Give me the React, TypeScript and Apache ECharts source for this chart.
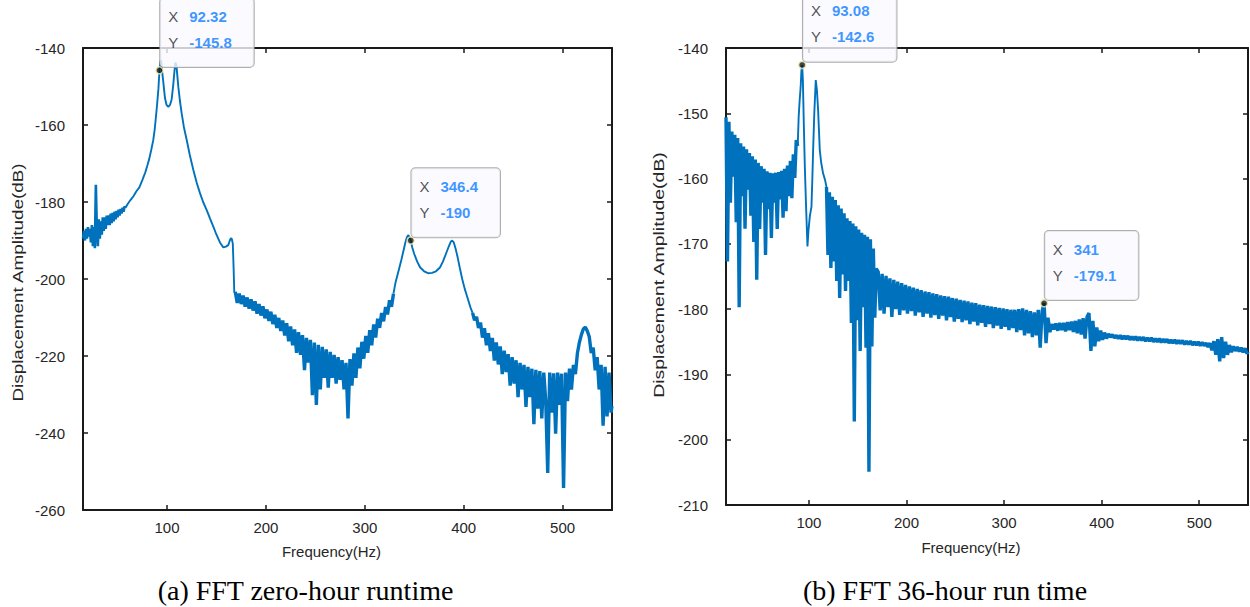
import React, { useEffect, useRef } from "react";
import * as echarts from "echarts";

// ---------- (a) FFT zero-hour runtime ----------
const zeroLowBand: [number, number][] = [
  [15,-189.5],[16,-187.5],[17,-190],[18,-187],[19,-189.5],[20,-186.5],[21,-189],[22,-187],[23,-190.5],[24,-186],
  [25,-191.5],[26,-186.5],[27,-192],[28,-175.5],[29,-187],[30,-191.5],[31,-184.5],[32,-189.5],[33,-185],[34,-188.5],
  [35,-184],[36,-187.5],[37,-184],[38,-187],[39,-183.5],[40,-186],[41,-183.5],[42,-186],[43,-183],[44,-185.5],
  [45,-182.8],[46,-185],[47,-182.5],[48,-184.5],[49,-182.3],[50,-184],[51,-182],[52,-183.5],[53,-181.8],[54,-183],
  [55,-181.5],[56,-182.5],[57,-181.2],[58,-181.5]
];
const zeroResonance: [number, number][] = [
  [60,-180.6],[63,-179.5],[66,-178.5],[69,-177.2],[72,-176.2],[75,-174.3],[78,-172.3],[80,-170.6],[82,-168.8],
  [84,-166.5],[86,-164],[87.5,-161.2],[88.8,-157.8],[90,-154.5],[91.3,-150.5],[92.32,-145.8],[93.2,-143.5],
  [94,-143.2],[95,-146],[96.2,-148.8],[97.9,-153],[99.5,-154.8],[101.3,-155.3],[103,-154.8],[104.7,-153.3],
  [106.3,-149.5],[107.5,-146],[108.5,-143.8],[109.5,-144.5],[110.5,-147.5],[111.5,-150.3],[113,-153.7],
  [114.8,-157],[117,-160.5],[119.9,-163.9],[123,-167.8],[126.6,-171.7],[130,-175],[133.3,-177.7],[136.5,-180],
  [140.1,-182.1],[143.5,-184.3],[146.8,-186.4],[150,-188.5],[153.5,-190.5],[156.9,-191.8],[159.5,-191.6],
  [161.9,-191.2],[163.5,-190],[164.6,-189.4],[165.5,-189.6],[166.5,-190.8],[167.3,-197],[168,-203.5]
];
const zeroMidBand: [number, number][] = [
  [169,-203.3],[171,-206.2],[173,-203.8],[175,-206.5],[177,-204.3],[179,-207.2],[181,-204.8],[183,-207.7],[185,-205.3],
  [187,-208.2],[189,-205.8],[191,-209],[193,-206.5],[195,-209.5],[197,-207.1],[199,-210.2],[201,-207.9],
  [203,-210.9],[205,-208.5],[207,-211.7],[209,-209.3],[211,-212.7],[213,-210.1],[215,-213.5],[217,-210.8],[219,-214.7],
  [221,-211.5],[223,-216.2],[225,-212.3],[227,-217.2],[229,-213.1],[231,-219.2],[233,-213.8],[235,-219.7],
  [237,-214.6],[239,-223.7],[241,-215.3],[243,-221.7],[245,-215.8],[247,-230.2],[249,-216.5],[251,-232.7],[253,-217.1],
  [255,-228.7],[257,-217.6],[259,-225.7],[261,-218.3],[263,-228.2],[265,-218.9],[267,-225.7],[269,-219.7],[271,-227.2],
  [273,-220.3],[275,-226.2],[277,-221.1],[279,-228.7],[281,-221.8],[283,-236.2],[285,-220.8],[287,-227.7],[289,-219.3],
  [291,-225.7],[293,-217.8],[295,-223.2],[297,-216.3],[299,-220.7],[301,-214.8],[303,-219.2],[305,-213.3],[307,-217.2],
  [309,-211.8],[311,-215.2],[313,-210.3],[315,-212.7],[317,-208.8],[319,-211],[321,-207.3],[323,-209.2],
  [325,-205.5],[327,-207.2],[329,-203.8]
];
const zeroSecondPeak: [number, number][] = [
  [331,-201],[333,-199],[335,-197],[337,-195],[339,-192.8],[341,-190.5],[342.5,-189.2],[343.8,-188.6],
  [345,-189],[346.4,-190],[348,-191.8],[350,-193.5],[353,-195.5],[356,-197],[360,-198],[364,-198.5],
  [368,-198.4],[372,-198],[376,-197],[379,-195.5],[382,-193.5],[385,-191.5],[387,-190.3],[388.3,-190],
  [390,-190.5],[392,-192.3],[394,-194.5],[396,-197],[398.5,-200],[401,-202.5],[404,-205],[407,-207.5]
];
const zeroHighBand: [number, number][] = [
  [409,-208.8],[411,-210.7],[413,-209.8],[415,-212.7],[417,-211.3],[419,-215.2],[421,-212.8],[423,-217.2],
  [425,-214.1],[427,-218.7],[429,-215.3],[431,-221.2],[433,-216.5],[435,-222.2],[437,-217.5],[439,-224.7],
  [441,-218.6],[443,-224.2],[445,-219.5],[447,-227.7],[449,-220.3],[451,-227.2],[453,-221.1],[455,-230.7],
  [457,-221.8],[459,-228.7],[461,-222.3],[463,-233.2],[465,-222.8],[467,-230.7],[469,-223.3],[471,-237.7],[473,-223.6],
  [475,-233.7],[477,-223.9],[479,-236.2],[481,-224.3],[483,-231.7],[485,-250.4],[487,-224.3],[489,-234.7],[491,-224.5],
  [493,-240.2],[495,-224.3],[497,-232.7],[499,-224.6],[501,-254.3],[503,-224.3],[505,-231.7],[507,-223.3],[509,-228.7],
  [511,-222.3],[513,-224.7],[515,-219.3],[517,-216.5],[519,-214.5],[521,-213],[523,-212.5],[525,-213.5],[527,-215],
  [529,-219.2],[531,-217.8],[533,-223.7],[535,-220.3],[537,-228.7],[539,-222.3],[541,-238.1],[543,-222.8],[545,-235.7],
  [547,-224.3],[549,-234.7],[550,-233]
];
const zeroTips: [number, number][] = [[92.32, -145.8], [346.4, -190]];

// ---------- (b) FFT 36-hour run time ----------
const hourLowBand: [number, number][] = [
  [15,-150.6],[16.5,-172.7],[18,-151.3],[19.5,-163.7],[21,-152.8],[22.5,-159.7],[24,-153.3],[25.5,-166.7],[27,-153.8],
  [28.5,-179.7],[30,-154.6],[31.5,-162.7],[33,-155.1],[34.5,-167.7],[36,-155.5],[37.5,-161.7],[39,-156.1],[40.5,-165.7],
  [42,-156.6],[43.5,-169.7],[45,-157.1],[46.5,-175.5],[48,-157.6],[49.5,-167.7],[51,-158.1],[52.5,-163.7],[54,-158.5],
  [55.5,-171.7],[57,-158.9],[58.5,-164.7],[60,-159.1],[61.5,-169.1],[63,-159.2],[64.5,-163.7],[66,-159.1],[67.5,-167.7],
  [69,-159],[70.5,-163.2],[72,-158.8],[73.5,-166],[75,-158.5],[76.5,-165],[78,-158],[79.5,-162.7],
  [81,-157.3],[82.5,-163],[84,-156.3],[85.5,-159.9],[87,-154.1],[88.5,-155]
];
const hourResonance: [number, number][] = [
  [89.5,-150.5],[90.5,-148],[91.5,-146],[92.3,-143.5],[93.08,-142.6],[93.8,-145],[94.8,-152],[95.8,-158.2],
  [97,-164],[98.5,-170.4],[99.5,-168],[100.9,-165.8],[102.6,-164.3],[103.5,-160],[104.3,-155.6],[105.5,-150],
  [107,-144.9],[108.2,-146.5],[109.4,-149.5],[111.1,-155.6],[112.5,-157.5],[114.5,-159.2],[116.5,-160.2]
];
const hourMidBand: [number, number][] = [
  [118,-161.3],[119.5,-171.7],[121,-162.1],[122.5,-173.7],[124,-162.8],[125.5,-172.7],[127,-163.3],[128.5,-175.7],
  [130,-164.1],[131.5,-178.3],[133,-164.6],[134.5,-174.7],[136,-165.3],[137.5,-177.2],[139,-166.1],[140.5,-175.7],
  [142,-166.5],[143.5,-182.1],[145,-166.9],[146.5,-197.2],[148,-167.3],[149.5,-181.7],[151,-167.8],[152.5,-186.4],
  [154,-168.3],[155.5,-179.7],[157,-168.6],[158.5,-185.9],[160,-168.9],[161.5,-204.9],[163,-169.3],[164.5,-185.7],
  [166,-170.7],[167.5,-181.3],[169,-173.8]
];
const hourTailBand: [number, number][] = [
  [171,-174.3],[173,-180.2],[175,-174.6],[177,-180.7],[179,-174.9],[181,-179.7],[183,-175.3],[185,-181.2],[187,-175.5],
  [189,-180],[191,-175.8],[193,-180.9],[195,-176],[197,-180.2],[199,-176.3],[201,-180.7],[203,-176.5],
  [205,-180.3],[207,-176.7],[209,-181],[211,-176.9],[213,-180.5],[215,-177.1],[217,-181.2],[219,-177.3],
  [221,-180.7],[223,-177.4],[225,-181.3],[227,-177.6],[229,-180.9],[231,-177.7],[233,-181.5],[235,-177.9],
  [237,-181],[239,-178],[241,-181.7],[243,-178.1],[245,-181.2],[247,-178.3],[249,-181.9],[251,-178.4],
  [253,-181.5],[255,-178.6],[257,-182],[259,-178.7],[261,-181.7],[263,-178.8],[265,-182.3],[267,-179],
  [269,-181.9],[271,-179.1],[273,-182.5],[275,-179.3],[277,-182.1],[279,-179.4],[281,-182.7],[283,-179.5],
  [285,-182.3],[287,-179.6],[289,-182.9],[291,-179.7],[293,-182.5],[295,-179.8],[297,-183],[299,-179.9],
  [301,-182.7],[303,-180],[305,-183.2],[307,-180.1],[309,-182.9],[311,-180.1],[313,-183.5],[315,-180],
  [317,-183.2],[319,-179.9],[321,-184],[323,-180.1],[325,-183.7],[327,-180.3],[329,-184.3],[331,-180.5],
  [333,-184],[335,-180.1],[337,-185.9],[339,-180.3],[341,-179.1],[343,-185.2],[345,-181.3],[347,-183.5],
  [349,-182.3],[351,-183.1],[353,-182.2],[355,-183.3],[357,-182.1],[359,-183.2],[361,-182.1],[363,-183.4],
  [365,-182],[367,-183.2],[369,-181.9],[371,-183.5],[373,-181.8],[375,-183.7],[377,-181.6],[379,-183.9],
  [381,-181.4],[383,-184.5],[385,-181.2],[387,-180.6],[389,-186.4],[391,-181.8],[393,-185.7],[395,-182.8],
  [397,-184.9],[399,-183.3],[401,-184.7],[403,-183.6],[405,-184.5],[407,-183.8],[409,-184.3],[411,-183.9],
  [413,-184.4],[415,-184],[417,-184.5],[419,-184],[421,-184.6],[423,-184.1],[425,-184.6],[427,-184.1],
  [429,-184.7],[431,-184.2],[433,-184.7],[435,-184.2],[437,-184.8],[439,-184.3],[441,-184.8],[443,-184.3],
  [445,-184.9],[447,-184.4],[449,-184.9],[451,-184.4],[453,-185],[455,-184.5],[457,-185],[459,-184.5],
  [461,-185.1],[463,-184.6],[465,-185.1],[467,-184.6],[469,-185.2],[471,-184.7],[473,-185.2],[475,-184.7],
  [477,-185.3],[479,-184.8],[481,-185.3],[483,-184.8],[485,-185.4],[487,-184.9],[489,-185.4],[491,-184.9],
  [493,-185.5],[495,-185],[497,-185.5],[499,-185],[501,-185.6],[503,-185.1],[505,-185.6],[507,-185.2],
  [509,-185.8],[511,-185.2],[513,-186.3],[515,-184.9],[517,-187],[519,-184.6],[521,-188],[523,-184.3],
  [525,-187.5],[527,-185],[529,-187],[531,-185.5],[533,-186.6],[535,-185.7],[537,-186.4],[539,-185.8],
  [541,-186.5],[543,-185.9],[545,-186.6],[547,-186],[549,-186.8],[550,-186.5]
];
const hourTips: [number, number][] = [[93.08, -142.6], [341, -179.1]];

// ---------- axes / texts ----------
const freqRange = [15, 550];
const zeroDbRange = [-260, -140];
const zeroDbStep = 20;
const hourDbRange = [-210, -140];
const hourDbStep = 10;
const xName = "Frequency(Hz)";
const yName = "Displacement Amplitude(dB)";
const captions = ["(a) FFT zero-hour runtime", "(b) FFT 36-hour run time"];

const LINE = "#0072BD";
const INK = "#1a1a1a";
const TXT = "#262626";
const SANS = '"Liberation Sans", Arial, Helvetica, sans-serif';

function xAxes(gridIndex: number, nameGap: number) {
  const common = {
    type: "value" as const,
    gridIndex,
    min: freqRange[0],
    max: freqRange[1],
    splitNumber: 5,
    minInterval: 100,
    maxInterval: 100,
    splitLine: { show: false },
    axisLine: { show: true, onZero: false, lineStyle: { color: INK, width: 2 } },
    axisTick: { show: true, inside: true, length: 5, lineStyle: { color: INK, width: 1.5 } },
  };
  return [
    {
      ...common,
      position: "bottom",
      name: xName,
      nameLocation: "middle",
      nameGap,
      nameTextStyle: { color: TXT, fontSize: 15, fontFamily: SANS, padding: [0, 32, 0, 0] },
      axisLabel: {
        color: TXT, fontSize: 15, fontFamily: SANS, margin: 10,
        showMinLabel: false, showMaxLabel: false,
      },
    },
    { ...common, position: "top", axisLabel: { show: false } },
  ];
}

function yAxes(gridIndex: number, range: number[], step: number) {
  const common = {
    type: "value" as const,
    gridIndex,
    min: range[0],
    max: range[1],
    interval: step,
    splitLine: { show: false },
    axisLine: { show: true, onZero: false, lineStyle: { color: INK, width: 2 } },
    axisTick: { show: true, inside: true, length: 5, lineStyle: { color: INK, width: 1.5 } },
  };
  return [
    { ...common, position: "left", axisLabel: { color: TXT, fontSize: 15, fontFamily: SANS, margin: 18 } },
    { ...common, position: "right", axisLabel: { show: false } },
  ];
}

function lineSeries(axisIndex: number, data: [number, number][], width: number) {
  return {
    type: "line",
    xAxisIndex: axisIndex,
    yAxisIndex: axisIndex,
    data,
    showSymbol: false,
    clip: true,
    lineStyle: { color: LINE, width },
    emphasis: { disabled: true },
  };
}

function tipSeries(axisIndex: number, tips: [number, number][]) {
  return {
    type: "scatter",
    xAxisIndex: axisIndex,
    yAxisIndex: axisIndex,
    data: tips,
    symbol: "circle",
    symbolSize: 7,
    z: 10,
    itemStyle: { color: "#151515", borderColor: "#f3eeb0", borderWidth: 1.5 },
    label: {
      show: true,
      position: [5, 1],
      align: "left",
      verticalAlign: "bottom",
      formatter: (p: any) => `{k|X}{v|${p.value[0]}}\n{k|Y}{v|${p.value[1]}}`,
      backgroundColor: "#f9f9ff",
      borderColor: "#9a9a9a",
      borderWidth: 1,
      borderRadius: 4,
      padding: [5, 22, 12, 8],
      rich: {
        k: { fontSize: 15, fontFamily: SANS, color: TXT, width: 21, lineHeight: 26 },
        v: { fontSize: 15, fontFamily: SANS, fontWeight: "bold", color: "#0a7cff", lineHeight: 26 },
      },
    },
    emphasis: { disabled: true },
  };
}

const last = (a: [number, number][]) => a[a.length - 1];

export default function App() {
  const ref = useRef<HTMLDivElement>(null);
  useEffect(() => {
    if (!ref.current) return;
    const chart = echarts.init(ref.current, undefined, { renderer: "svg" });
    const NOISY = 3.4;
    const SMOOTH = 1.9;
    const yNameStyle = {
      text: yName,
      font: `15px ${SANS}`,
      fill: TXT,
      align: "center",
      verticalAlign: "middle",
      textAlign: "center",
      textVerticalAlign: "middle",
    };
    const captionStyle = (t: string) => ({
      text: t,
      font: '28px "Liberation Serif", "Times New Roman", serif',
      fill: "#000",
      align: "center",
      verticalAlign: "middle",
      textAlign: "center",
      textVerticalAlign: "middle",
    });
    chart.setOption({
      animation: false,
      backgroundColor: "#ffffff",
      grid: [
        { left: 83, top: 48, width: 529, height: 462 },
        { left: 726, top: 48, width: 522, height: 457 },
      ],
      xAxis: [...xAxes(0, 34), ...xAxes(1, 35)],
      yAxis: [...yAxes(0, zeroDbRange, zeroDbStep), ...yAxes(1, hourDbRange, hourDbStep)],
      series: [
        // (a)
        lineSeries(0, zeroLowBand, 2.6),
        lineSeries(0, [last(zeroLowBand), ...zeroResonance, zeroMidBand[0]], SMOOTH),
        lineSeries(0, zeroMidBand, NOISY),
        lineSeries(0, [last(zeroMidBand), ...zeroSecondPeak, zeroHighBand[0]], SMOOTH),
        lineSeries(0, zeroHighBand, NOISY),
        // (b)
        lineSeries(2, hourLowBand, NOISY),
        lineSeries(2, [last(hourLowBand), ...hourResonance, hourMidBand[0]], SMOOTH),
        lineSeries(2, [...hourMidBand, ...hourTailBand], NOISY),
        tipSeries(0, zeroTips),
        tipSeries(2, hourTips),
      ],
      graphic: [
        { type: "text", x: 18.5, y: 282.5, rotation: Math.PI / 2, scaleX: 1.26, style: yNameStyle },
        { type: "text", x: 659, y: 275, rotation: Math.PI / 2, scaleX: 1.3, style: yNameStyle },
        { type: "text", x: 305.5, y: 590, style: captionStyle(captions[0]) },
        { type: "text", x: 945, y: 590, style: captionStyle(captions[1]) },
      ],
    });
    return () => chart.dispose();
  }, []);
  return (
    <div
      ref={ref}
      style={{ position: "absolute", left: 0, top: 0, width: 1250, height: 607, background: "#fff" }}
    />
  );
}
